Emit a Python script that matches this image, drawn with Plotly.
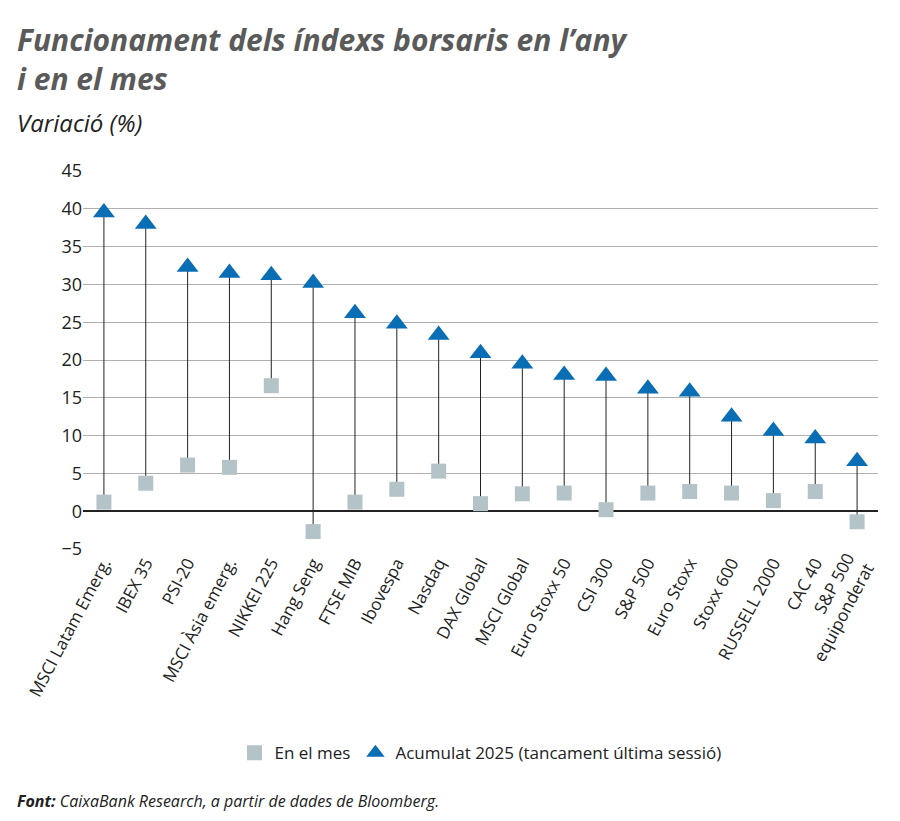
import plotly.graph_objects as go

# data
categories = ['MSCI Latam Emerg.', 'IBEX 35', 'PSI-20', 'MSCI Àsia emerg.', 'NIKKEI 225',
              'Hang Seng', 'FTSE MIB', 'Ibovespa', 'Nasdaq', 'DAX Global', 'MSCI Global',
              'Euro Stoxx 50', 'CSI 300', 'S&P 500', 'Euro Stoxx', 'Stoxx 600',
              'RUSSELL 2000', 'CAC 40', 'S&P 500<br>equiponderat']
ytd_2025 = [39.5, 38.0, 32.3, 31.5, 31.2, 30.2, 26.2, 24.8, 23.3, 20.9, 19.5,
            18.0, 17.9, 16.2, 15.8, 12.5, 10.6, 9.6, 6.6]
month = [1.2, 3.7, 6.1, 5.8, 16.6, -2.7, 1.2, 2.9, 5.3, 1.0, 2.3,
         2.4, 0.2, 2.4, 2.6, 2.4, 1.4, 2.6, -1.4]
y_ticks = [-5, 0, 5, 10, 15, 20, 25, 30, 35, 40, 45]

font = "Open Sans"
fig = go.Figure()

# connector lines between the two markers
lx, ly = [], []
for c, a, b in zip(categories, month, ytd_2025):
    lx += [c, c, None]
    ly += [a, b, None]
fig.add_trace(go.Scatter(x=lx, y=ly, mode='lines', line=dict(color='#222222', width=1),
                         showlegend=False, hoverinfo='skip'))

fig.add_trace(go.Scatter(x=categories, y=month, mode='markers', name='En el mes',
                         marker=dict(symbol='square', size=15, color='#b4c3c8')))
fig.add_trace(go.Scatter(x=categories, y=ytd_2025, mode='markers',
                         name='Acumulat 2025 (tancament última sessió)',
                         marker=dict(symbol='triangle-up', size=19, color='#0a6eb4')))

fig.update_layout(
    width=900, height=821, plot_bgcolor='white', paper_bgcolor='white',
    font=dict(family=font, size=16, color='#222222'),
    margin=dict(l=75, r=30, t=163, b=280),
    xaxis=dict(tickangle=-62, showgrid=False, range=[-0.5, len(categories) - 0.5],
               tickfont=dict(size=17), ticks=''),
    yaxis=dict(range=[-5, 45], tickvals=y_ticks, showgrid=True, gridcolor='#b0b0b0',
               gridwidth=1, zeroline=True, zerolinecolor='#222222', zerolinewidth=1.5,
               tickfont=dict(size=18), ticks=''),
    legend=dict(orientation='h', x=0.5, xanchor='center', y=-0.54, yanchor='middle',
                font=dict(size=17)),
    showlegend=True,
)

fig.add_annotation(text='<b><i>Funcionament dels índexs borsaris en l’any<br>i en el mes</i></b>',
                   xref='paper', yref='paper', x=-0.085, y=1.0, xanchor='left', yanchor='bottom',
                   yshift=70, align='left', showarrow=False,
                   font=dict(size=30, color='#5a5a5a', family=font))
fig.add_annotation(text='<i>Variació (%)</i>', xref='paper', yref='paper', x=-0.085, y=1.0,
                   xanchor='left', yanchor='bottom', yshift=30, showarrow=False,
                   font=dict(size=24, color='#222222', family=font))
fig.add_annotation(text='<b><i>Font:</i></b><i> CaixaBank Research, a partir de dades de Bloomberg.</i>',
                   xref='paper', yref='paper', x=-0.085, y=0, yshift=-252, xanchor='left',
                   yanchor='middle', showarrow=False, font=dict(size=16, color='#222222', family=font))

fig.write_html("out.html")
